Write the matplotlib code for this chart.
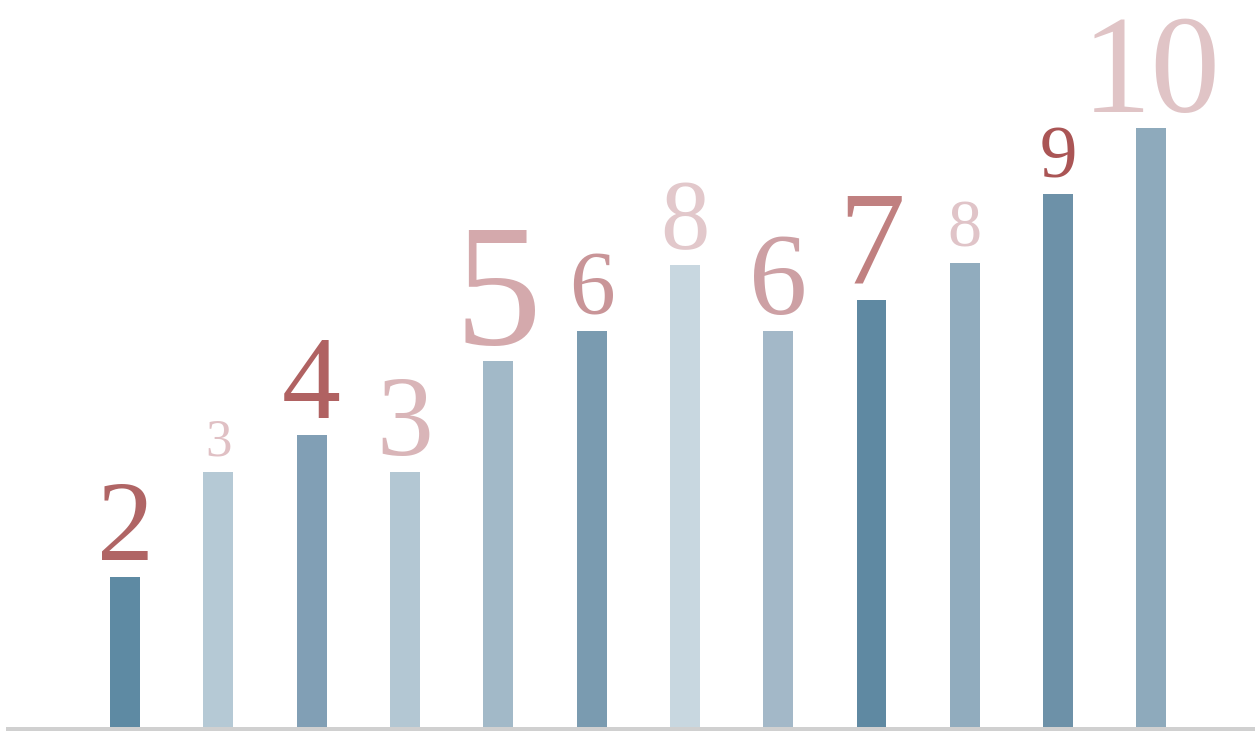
import matplotlib.pyplot as plt

# bar heights and the numbers printed above them
bar_values = [2.5, 4.25, 4.87, 4.25, 6.1, 6.6, 7.7, 6.6, 7.12, 7.73, 8.88, 9.98]
labels = ['2', '3', '4', '3', '5', '6', '8', '6', '7', '8', '9', '10']
label_sizes = [82, 38, 85, 82, 125, 66, 71, 84, 96, 49, 54, 100]

bar_colors = ['#5e8aa3', '#b5c9d5', '#819fb5', '#b3c7d3', '#a2b9c8', '#7a9bb0',
              '#c8d7e0', '#a3b8c8', '#5f89a2', '#91acbe', '#6d91a8', '#8eaabc']
label_colors = ['#b06565', '#e0c0c4', '#b06262', '#d9b5b8', '#d4a9ac', '#c99598',
                '#e2c8cb', '#cda0a4', '#c08080', '#e0c4c8', '#aa5555', '#e0c4c6']

fig = plt.figure(figsize=(12.55, 7.31), dpi=100)
ax = fig.add_axes([0, 0, 1, 1])

x = list(range(len(bar_values)))
ax.bar(x, bar_values, width=0.32, color=bar_colors, zorder=2)

for i, (v, lab) in enumerate(zip(bar_values, labels)):
    ax.annotate(lab, (i, v), xytext=(0, 12), textcoords='offset points',
                ha='center', va='baseline', fontsize=label_sizes[i],
                color=label_colors[i], family='Liberation Serif')

# grey floor line
ax.axhline(-0.04, xmin=8 / 1255, xmax=1, color='#d0d0d0', lw=3.6, zorder=3)

ax.set_xlim(-1.34, 12.11)
ax.set_ylim(-0.067, 12.12)
ax.axis('off')

fig.savefig('out.png', dpi=100)
